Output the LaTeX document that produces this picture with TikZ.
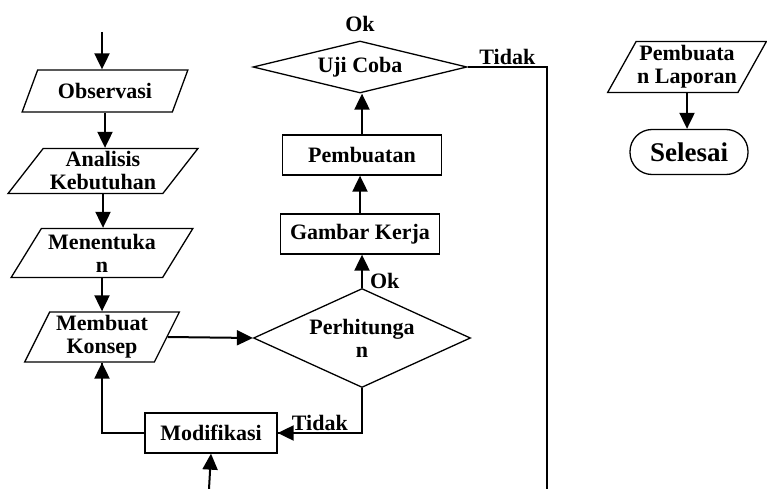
\documentclass[tikz,border=0pt]{standalone}
\usepackage{fontspec}
\setmainfont{Liberation Serif}
\usetikzlibrary{shapes.geometric,arrows.meta,positioning}
\tikzset{
    io-box/.style = {draw, trapezium, trapezium stretches=true, trapezium left angle=55, trapezium right angle=125, line width=1.3pt, inner sep=0pt, align=center},
    process-box/.style = {draw, rectangle, line width=1.3pt, inner sep=0pt, align=center},
    decision-box/.style = {draw, diamond, line width=1.3pt, inner sep=0pt, align=center},
    terminal-box/.style = {draw, rectangle, rounded corners=22pt, line width=1.3pt, inner sep=0pt},
    flow-arrow/.style = {line width=2pt, -{Triangle[length=16pt,width=15pt]}},
    flow-line/.style = {line width=1.3pt},
    flow-label/.style = {inner sep=2pt},
}

\begin{document}
\begin{tikzpicture}[x=1pt, y=-1pt, font=\fontsize{22}{23}\selectfont\bfseries]
\useasboundingbox (0,0) rectangle (767,489);

% left column
\coordinate (start) at (102,32);
\node [io-box, minimum width=166pt, minimum height=42pt] (obs) at (105,91) {Observasi};
\node [io-box, minimum width=190pt, minimum height=45pt, trapezium left angle=51, trapezium right angle=129] (anal) at (103,171) {Analisis\\Kebutuhan};
\node [io-box, minimum width=182pt, minimum height=49pt] (ment) at (102,253) {Menentuka\\n};
\node [io-box, minimum width=155pt, minimum height=50pt, trapezium left angle=63, trapezium right angle=117] (konsep) at (102,337) {Membuat\\Konsep};
\node [process-box, minimum width=132pt, minimum height=40pt] (modif) at (211,433) {Modifikasi};
\coordinate (bottom) at (209,489);

% middle column
\node [decision-box, aspect=2.2, minimum width=217pt, minimum height=99pt] (hitung) at (362,338) {Perhitunga\\n};
\node [process-box, minimum width=159pt, minimum height=40pt] (gambar) at (360,234) {Gambar Kerja};
\node [process-box, minimum width=159pt, minimum height=40pt] (buat) at (362,155) {Pembuatan};
\node [decision-box, aspect=4.1, minimum width=214pt, minimum height=52pt] (uji) at (360,67) {Uji Coba};
\node [flow-label, above=6pt of uji.north] (ok-uji) {Ok};
\coordinate (tidak-turn) at (547,67);
\coordinate (tidak-end) at (547,489);

% right column
\node [io-box, minimum width=159pt, minimum height=51pt, trapezium left angle=57, trapezium right angle=123] (lapor) at (687,67) {Pembuata\\n Laporan};
\node [terminal-box, minimum width=118pt, minimum height=45pt, font=\fontsize{27}{28}\selectfont\bfseries] (selesai) at (689,152) {Selesai};

% connectors
\draw [flow-arrow] (start) -- (start |- obs.north);
\draw [flow-arrow] (obs.south) -- (obs.south |- anal.north);
\draw [flow-arrow] (anal.south) -- (anal.south |- ment.north);
\draw [flow-arrow] (ment.south) -- (ment.south |- konsep.north);
\draw [flow-arrow] (konsep.east) -- (hitung.west);
\draw [flow-line] (hitung.south) |- (modif.east) node [flow-label, pos=0.75, above] {Tidak};
\draw [flow-arrow] (hitung.south |- modif.east) -- (modif.east);
\draw [flow-line] (modif.west) -| (konsep.south);
\draw [flow-arrow] (konsep.south |- modif.west) -- (konsep.south);
\draw [flow-arrow] (bottom) -- (modif.south);
\draw [flow-arrow] (hitung.north) -- node [flow-label, pos=0.2, right=5pt] {Ok} (hitung.north |- gambar.south);
\draw [flow-arrow] (gambar.north) -- (gambar.north |- buat.south);
\draw [flow-arrow] (buat.north) -- (buat.north |- uji.south);
\draw [flow-line] (uji.east) -- node [flow-label, above] {Tidak} (tidak-turn) -- (tidak-end);
\draw [flow-arrow] (lapor.south) -- (lapor.south |- selesai.north);
\end{tikzpicture}
\end{document}
